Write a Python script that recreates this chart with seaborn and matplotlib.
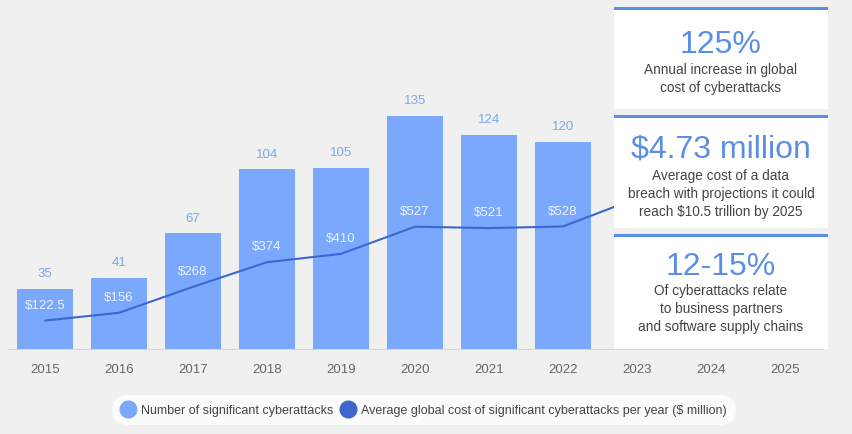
import pandas as pd
import matplotlib.pyplot as plt
import seaborn as sns
from matplotlib.patches import Rectangle
from matplotlib.lines import Line2D

years = ["2015", "2016", "2017", "2018", "2019", "2020", "2021", "2022", "2023", "2024", "2025"]
attack_years = ["2015", "2016", "2017", "2018", "2019", "2020", "2021", "2022"]
attacks = [35, 41, 67, 104, 105, 135, 124, 120]
cost_years = ["2015", "2016", "2017", "2018", "2019", "2020", "2021", "2022", "2023"]
costs = [122.5, 156, 268, 374, 410, 527, 521, 528, 650]
cost_labels = ["$122.5", "$156", "$268", "$374", "$410", "$527", "$521", "$528"]

panels = [
    ("125%", "Annual increase in global\ncost of cyberattacks"),
    ("$4.73 million", "Average cost of a data\nbreach with projections it could\nreach $10.5 trillion by 2025"),
    ("12-15%", "Of cyberattacks relate\nto business partners\nand software supply chains"),
]

BG = "#f0f0f0"
BAR = "#7aa8fd"
LINE = "#3d67cf"
W, H = 852, 435

sns.set_style("white")
plt.rcParams["font.family"] = ["Liberation Sans", "DejaVu Sans"]

fig = plt.figure(figsize=(W / 100, H / 100), dpi=100)
fig.patch.set_facecolor(BG)
ax = fig.add_axes([8 / W, 85 / H, 814 / W, 259 / H])
ax.set_facecolor(BG)

df = pd.DataFrame({"year": attack_years, "attacks": attacks})
sns.barplot(data=df, x="year", y="attacks", order=years, color=BAR,
            width=0.76, saturation=1, linewidth=0, ax=ax)
ax.set_xlim(-0.5, 10.5)
ax.set_ylim(0, 150)
for i, v in enumerate(attacks):
    ax.annotate(str(v), (i, v), xytext=(0, 7), textcoords="offset points",
                ha="center", va="bottom", fontsize=9.5, color="#7fa6ee")

ax.set_xlabel("")
ax.set_ylabel("")
ax.set_yticks([])
ax.tick_params(axis="x", length=0, pad=10, labelsize=9.5, labelcolor="#666666")
for s in ["top", "left", "right"]:
    ax.spines[s].set_visible(False)
ax.spines["bottom"].set_color("#d6d6d6")

ax2 = ax.twinx()
pos = [years.index(y) for y in cost_years]
sns.lineplot(x=pos, y=costs, color=LINE, linewidth=1.5, ax=ax2)
ax2.set_ylim(0, 1116)
ax2.set_yticks([])
for s in ["top", "left", "right", "bottom"]:
    ax2.spines[s].set_visible(False)
for i, lab in enumerate(cost_labels):
    ax2.annotate(lab, (pos[i], costs[i]), xytext=(0, 7), textcoords="offset points",
                 ha="center", va="bottom", fontsize=9.5, color="#eef3ff")

# info panels
tops = [8, 116, 235]
bottoms = [110, 229, 350]
mids = [79, 194, 309]
heads = [45, 150, 267]
x0, x1 = 614, 828
for (big, small), t, b, m, hy in zip(panels, tops, bottoms, mids, heads):
    fig.add_artist(Rectangle((x0 / W, 1 - b / H), (x1 - x0) / W, (b - t) / H,
                             transform=fig.transFigure, facecolor="white",
                             edgecolor="none", zorder=5))
    fig.add_artist(Rectangle((x0 / W, 1 - (t + 2.5) / H), (x1 - x0) / W, 2.5 / H,
                             transform=fig.transFigure, facecolor="#5b8fe6",
                             edgecolor="none", zorder=6))
    fig.text((x0 + x1) / 2 / W, 1 - hy / H, big, ha="center", va="center",
             fontsize=23, color="#5b8fe6", zorder=7)
    fig.text((x0 + x1) / 2 / W, 1 - m / H, small, ha="center", va="center",
             fontsize=9.8, color="#444444", linespacing=1.32, zorder=7)

handles = [
    Line2D([], [], marker="o", linestyle="none", markersize=12, color=BAR),
    Line2D([], [], marker="o", linestyle="none", markersize=12, color=LINE),
]
labels = ["Number of significant cyberattacks",
          "Average global cost of significant cyberattacks per year ($ million)"]
leg = fig.legend(handles, labels, loc="center", bbox_to_anchor=(424 / W, 1 - 411 / H),
                 ncol=2, frameon=True, fontsize=9, handletextpad=0.5,
                 columnspacing=0.6, handlelength=1.1, borderpad=0.55)
leg.get_frame().set_facecolor("white")
leg.get_frame().set_edgecolor("none")
leg.get_frame().set_boxstyle("round,pad=0.2,rounding_size=1.3")
for t in leg.get_texts():
    t.set_color("#444444")

fig.savefig("out.png", dpi=100, facecolor=BG)
